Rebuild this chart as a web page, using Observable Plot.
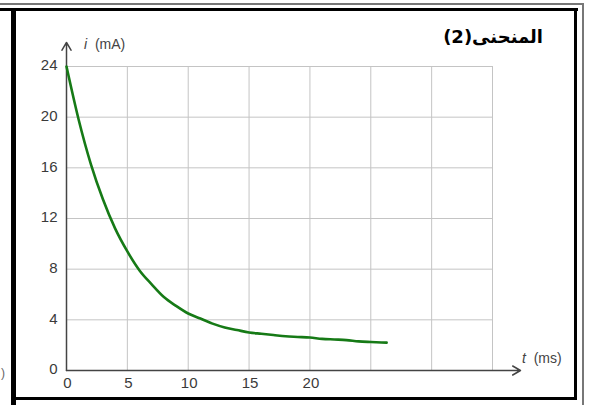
<!DOCTYPE html>
<html>
<head>
<meta charset="utf-8">
<script src="https://cdn.jsdelivr.net/npm/d3@7"></script>
<script src="https://cdn.jsdelivr.net/npm/@observablehq/plot@0.6"></script>
<style>
  html, body { margin: 0; padding: 0; background: #fff; }
  #wrap { position: relative; width: 589px; height: 405px; overflow: hidden; font-family: "Liberation Sans", Arial, sans-serif; }
  .ln { position: absolute; }
  .lbl { position: absolute; font-size: 14px; color: #444; white-space: nowrap; }
  #title { position: absolute; right: 46px; top: 26px; font-family: "DejaVu Sans", "Liberation Serif", serif; font-weight: bold; font-size: 18px; color: #000; white-space: nowrap; }
</style>
</head>
<body>
<div id="wrap">
  <div id="chart" style="position:absolute;left:0;top:0;"></div>
  <div class="ln" style="left:0;top:3px;width:584px;height:1.5px;background:#777;"></div>
  <div class="ln" style="left:582px;top:3px;width:1.5px;height:402px;background:#777;"></div>
  <div class="ln" style="left:0;top:8px;width:578px;height:3px;background:#000;"></div>
  <div class="ln" style="left:11px;top:8px;width:5px;height:397px;background:#000;"></div>
  <div class="ln" style="left:574px;top:8px;width:3px;height:392px;background:#000;"></div>
  <div class="ln" style="left:11px;top:397px;width:566px;height:3px;background:#000;"></div>
  <div class="lbl" style="left:1px;top:366px;color:#666;font-size:12px;">)</div>
  <div class="lbl" style="left:84px;top:36px;"><i>i</i>&nbsp;&nbsp;(mA)</div>
  <div class="lbl" style="left:522px;top:350px;"><i>t</i>&nbsp;&nbsp;(ms)</div>
  <div id="title" dir="rtl">المنحنى(2)</div>
</div>
<script>
// time (ms)
const tValues = [0, 1, 2, 3, 4, 5, 6, 7, 8, 9, 10, 11, 12, 13, 14, 15, 16, 17, 18, 19, 20, 21, 22, 23, 24, 25, 26.3];
// current (mA)
const iValues = [24, 19.8, 16.3, 13.5, 11.2, 9.4, 7.9, 6.8, 5.8, 5.1, 4.5, 4.1, 3.7, 3.4, 3.2, 3.0, 2.9, 2.8, 2.7, 2.65, 2.6, 2.5, 2.45, 2.4, 2.3, 2.25, 2.2];
const xTickLabels = [0, 5, 10, 15, 20];
const yTickLabels = [0, 4, 8, 12, 16, 20, 24];
const xGrid = [5, 10, 15, 20, 25, 30, 35];
const yGrid = [4, 8, 12, 16, 20, 24];

const data = tValues.map((t, k) => ({t, i: iValues[k]}));

const chart = Plot.plot({
  width: 589,
  height: 405,
  marginLeft: 66,
  marginRight: 97,
  marginTop: 66,
  marginBottom: 35,
  x: {domain: [0, 35], axis: null},
  y: {domain: [0, 24], axis: null},
  style: {background: "transparent", fontFamily: "Liberation Sans, Arial, sans-serif"},
  marks: [
    Plot.ruleX(xGrid, {y1: 0, y2: 24, stroke: "#c4c4c4", strokeWidth: 1, strokeOpacity: 1}),
    Plot.ruleY(yGrid, {x1: 0, x2: 35, stroke: "#c4c4c4", strokeWidth: 1, strokeOpacity: 1}),
    Plot.text(xTickLabels, {x: d => d, y: 0, text: d => String(d), dy: 13, dx: 1, textAnchor: "middle", fontSize: 15, fill: "#3a3a3a"}),
    Plot.text(yTickLabels, {x: 0, y: d => d, text: d => String(d), dx: -9, dy: -1, textAnchor: "end", fontSize: 15, fill: "#3a3a3a"}),
    Plot.arrow([0], {x1: 0, y1: 0, x2: 37.3, y2: 0, stroke: "#444", strokeWidth: 1.5, headLength: 9, bend: false}),
    Plot.arrow([0], {x1: 0, y1: 0, x2: 0, y2: 25.9, stroke: "#444", strokeWidth: 1.5, headLength: 9, bend: false}),
    Plot.line(data, {x: "t", y: "i", stroke: "#167a16", strokeWidth: 2.6, curve: "monotone-x"})
  ]
});
document.getElementById("chart").appendChild(chart);
</script>
</body>
</html>
